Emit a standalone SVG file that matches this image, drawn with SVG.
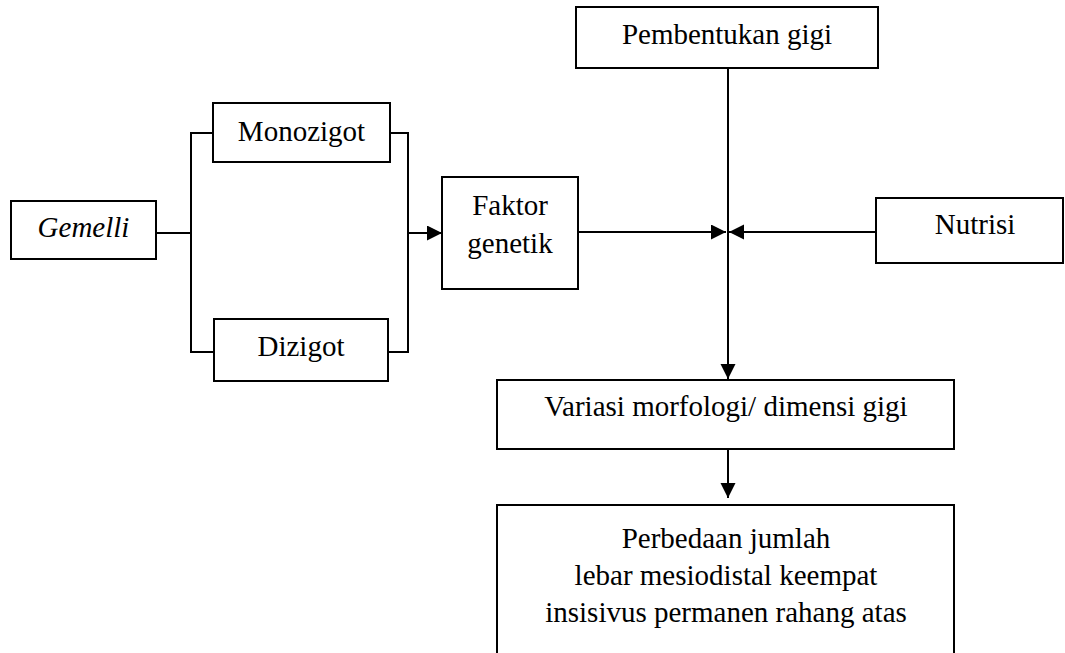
<svg xmlns="http://www.w3.org/2000/svg" width="1065" height="653" viewBox="0 0 1065 653">
<style>
.box{fill:#fff;stroke:#000;stroke-width:2}
.t{font-family:'Liberation Serif','DejaVu Serif',serif;font-size:29px;fill:#000;text-anchor:middle}
.c{fill:none;stroke:#000;stroke-width:2}
</style>
<defs>
<marker id="ah" markerUnits="userSpaceOnUse" markerWidth="16" markerHeight="16" refX="15" refY="7.5" orient="auto" viewBox="0 0 16 16">
<path d="M0,0 L15,7.5 L0,15 Z" fill="#000"/>
</marker>
</defs>
<rect width="1065" height="653" fill="#fff"/>
<g id="connectors">
<line class="c" x1="156" y1="233" x2="191" y2="233"/>
<path class="c" d="M213,133 H191 V352 H214"/>
<path class="c" d="M390,133 H408 V352 H388"/>
<line class="c" x1="408" y1="233" x2="442" y2="233" marker-end="url(#ah)"/>
<line class="c" x1="578" y1="232" x2="726" y2="232" marker-end="url(#ah)"/>
<line class="c" x1="876" y1="232" x2="729" y2="232" marker-end="url(#ah)"/>
<line class="c" x1="728" y1="68" x2="728" y2="379" marker-end="url(#ah)"/>
<line class="c" x1="728" y1="449" x2="728" y2="498" marker-end="url(#ah)"/>
</g>
<g id="gemelli">
<rect class="box" x="11" y="201" width="145" height="58"/>
<text class="t" x="83.5" y="237" font-style="italic">Gemelli</text>
</g>
<g id="monozigot">
<rect class="box" x="213" y="103" width="177" height="59"/>
<text class="t" x="301.5" y="141">Monozigot</text>
</g>
<g id="dizigot">
<rect class="box" x="214" y="319" width="174" height="62"/>
<text class="t" x="301" y="356">Dizigot</text>
</g>
<g id="faktor">
<rect class="box" x="442" y="177" width="136" height="112"/>
<text class="t" x="510" y="215">Faktor</text>
<text class="t" x="510" y="253">genetik</text>
</g>
<g id="pembentukan">
<rect class="box" x="576" y="7" width="302" height="61"/>
<text class="t" x="727" y="44">Pembentukan gigi</text>
</g>
<g id="nutrisi">
<rect class="box" x="876" y="198" width="187" height="65"/>
<text class="t" x="975" y="234">Nutrisi</text>
</g>
<g id="variasi">
<rect class="box" x="497" y="380" width="457" height="69"/>
<text class="t" x="726" y="416">Variasi morfologi/ dimensi gigi</text>
</g>
<g id="perbedaan">
<rect class="box" x="497" y="505" width="457" height="152"/>
<text class="t" x="726" y="548">Perbedaan jumlah</text>
<text class="t" x="726" y="585">lebar mesiodistal keempat</text>
<text class="t" x="726" y="622">insisivus permanen rahang atas</text>
</g>
</svg>
